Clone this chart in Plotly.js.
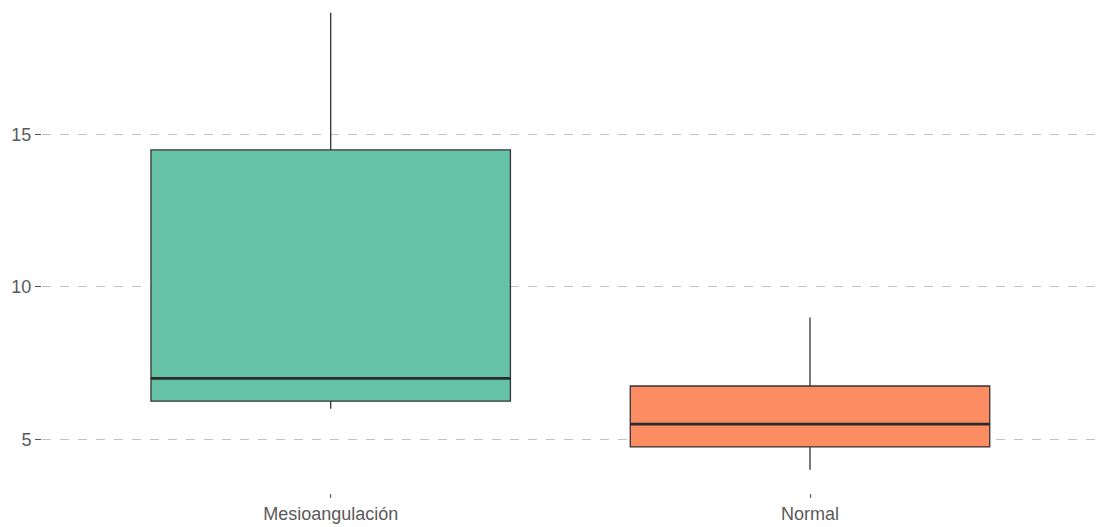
<!DOCTYPE html>
<html>
<head>
<meta charset="utf-8">
<script src="https://cdn.plot.ly/plotly-3.0.1.min.js"></script>
<style>
  html, body { margin: 0; padding: 0; background: #ffffff; }
  #chart { width: 1096px; height: 527px; }
</style>
</head>
<body>
<div id="chart"></div>
<script>
// Group labels and five-number summaries of each box
const categories = ["Mesioangulación", "Normal"];
const lowerWhisker = [6, 4];
const q1Values = [6.25, 4.75];
const medianValues = [7, 5.5];
const q3Values = [14.5, 6.75];
const upperWhisker = [19, 9];
const fillColors = ["#66C2A5", "#FC8D62"];

const boxWidth = 0.75;

const traces = categories.map((cat, i) => ({
  type: "box",
  x: [cat],
  q1: [q1Values[i]],
  median: [medianValues[i]],
  q3: [q3Values[i]],
  lowerfence: [lowerWhisker[i]],
  upperfence: [upperWhisker[i]],
  width: boxWidth,
  whiskerwidth: 0,
  fillcolor: fillColors[i],
  line: { color: "#333333", width: 1.3 },
  boxpoints: false,
  hoverinfo: "skip",
  showlegend: false
}));

// Thicker median bars drawn over each box
const medianShapes = categories.map((cat, i) => ({
  type: "line",
  xref: "x",
  yref: "y",
  x0: i - boxWidth / 2,
  x1: i + boxWidth / 2,
  y0: medianValues[i],
  y1: medianValues[i],
  line: { color: "#2b2b2b", width: 2.8 },
  layer: "above"
}));

const tickFont = { family: "Liberation Sans, Arial, sans-serif", size: 18, color: "#5a5a5a" };

const layout = {
  width: 1096,
  height: 527,
  margin: { l: 42, r: 0, t: 0, b: 34, pad: 0 },
  paper_bgcolor: "#ffffff",
  plot_bgcolor: "#ffffff",
  showlegend: false,
  shapes: medianShapes,
  xaxis: {
    type: "category",
    categoryorder: "array",
    categoryarray: categories,
    range: [-0.6023, 1.5967],
    showgrid: false,
    zeroline: false,
    showline: false,
    ticks: "outside",
    ticklen: 4,
    tickwidth: 1,
    tickcolor: "#555555",
    tickfont: tickFont,
    fixedrange: true
  },
  yaxis: {
    range: [3.237, 19.42],
    tickvals: [5, 10, 15],
    ticktext: ["5", "10", "15"],
    showgrid: true,
    gridcolor: "#c2c2c2",
    gridwidth: 1,
    griddash: "dash",
    zeroline: false,
    showline: false,
    ticks: "outside",
    ticklen: 6,
    tickwidth: 1,
    tickcolor: "#555555",
    tickfont: tickFont,
    fixedrange: true
  }
};

Plotly.newPlot("chart", traces, layout, { displayModeBar: false, staticPlot: true });
</script>
</body>
</html>
